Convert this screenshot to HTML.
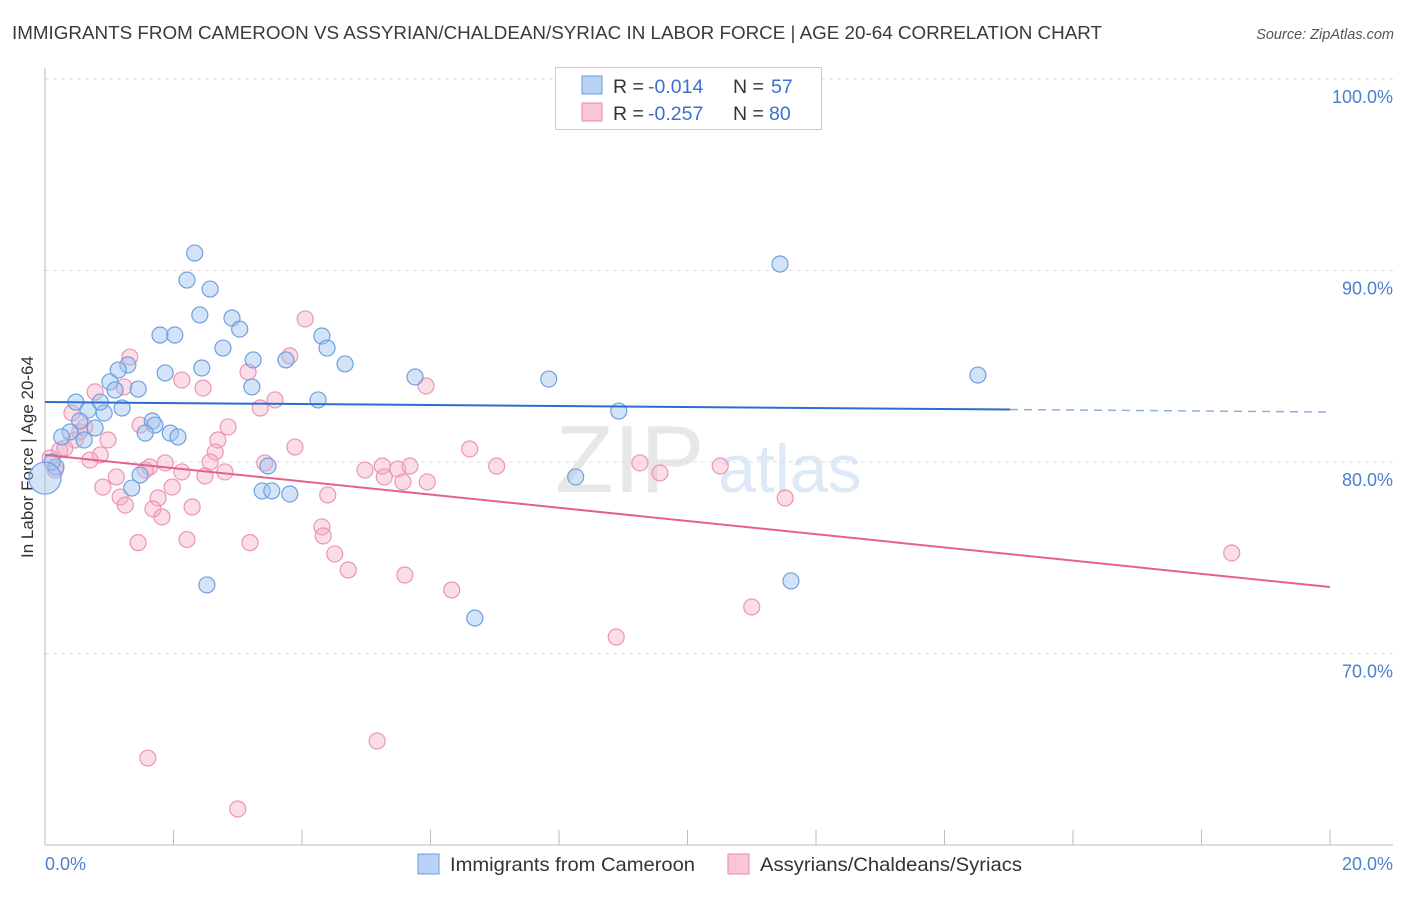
<!DOCTYPE html>
<html><head><meta charset="utf-8"><style>
body{margin:0;background:#fff;font-family:"Liberation Sans",sans-serif;}
svg text{font-family:"Liberation Sans",sans-serif;}
</style></head><body>
<svg id="chart" width="1406" height="892" xmlns="http://www.w3.org/2000/svg">
<text x="12" y="39" font-size="18.8" fill="#3a3a3a" textLength="1090" lengthAdjust="spacingAndGlyphs">IMMIGRANTS FROM CAMEROON VS ASSYRIAN/CHALDEAN/SYRIAC IN LABOR FORCE | AGE 20-64 CORRELATION CHART</text>
<text x="1394" y="39" font-size="14.5" fill="#555" font-style="italic" text-anchor="end">Source: ZipAtlas.com</text>
<text x="555" y="492" font-size="96" fill="#ddd" font-family="Liberation Serif" opacity="0.7">ZIP</text>
<text x="718" y="492" font-size="68" fill="#c9dcf3" opacity="0.6">atlas</text>
<text transform="translate(33,457) rotate(-90)" font-size="17" fill="#333" text-anchor="middle">In Labor Force | Age 20-64</text>
<g id="grid"></g><g id="pts"></g><g id="trend"></g>
<g>
<rect x="555.5" y="67.5" width="266" height="62" fill="#fff" stroke="#ccc"/>
<rect x="582" y="76" width="20" height="18" fill="#b8d3f5" stroke="#6a9de0"/>
<rect x="582" y="103" width="20" height="18" fill="#f8c6d6" stroke="#e88aaa"/>
<text x="613" y="93" font-size="19.5" fill="#333">R =</text>
<text x="648" y="93" font-size="19.5" fill="#3b6fd0">-0.014</text>
<text x="733" y="93" font-size="19.5" fill="#333">N =</text>
<text x="771" y="93" font-size="19.5" fill="#3b6fd0">57</text>
<text x="613" y="120" font-size="19.5" fill="#333">R =</text>
<text x="648" y="120" font-size="19.5" fill="#3b6fd0">-0.257</text>
<text x="733" y="120" font-size="19.5" fill="#333">N =</text>
<text x="769" y="120" font-size="19.5" fill="#3b6fd0">80</text>
</g>
<g>
<rect x="418" y="854" width="21" height="20" fill="#b8d3f5" stroke="#6a9de0"/>
<text x="450" y="871" font-size="19.5" fill="#333" textLength="245" lengthAdjust="spacingAndGlyphs">Immigrants from Cameroon</text>
<rect x="728" y="854" width="21" height="20" fill="#f8c6d6" stroke="#e88aaa"/>
<text x="760" y="871" font-size="19.5" fill="#333" textLength="262" lengthAdjust="spacingAndGlyphs">Assyrians/Chaldeans/Syriacs</text>
</g>
<text x="45" y="870" font-size="18" fill="#4a7fd0">0.0%</text>
<text x="1393" y="870" font-size="18" fill="#4a7fd0" text-anchor="end">20.0%</text>
</svg>
<script>
const yTicks=[100,90,80,70];
const yTickLabels=["100.0%","90.0%","80.0%","70.0%"];
const xTicks=[0,2,4,6,8,10,12,14,16,18,20];
const blueX=[2.33,2.21,2.57,1.79,2.02,2.41,2.91,3.03,2.77,3.24,3.75,4.31,4.39,4.67,2.44,1.87,1.29,1.14,1.01,1.09,1.45,3.22,5.76,7.84,11.44,14.52,8.93,4.25,0.48,0.67,0.92,1.20,0.86,0.54,0.78,0.39,0.26,0.61,1.67,1.71,1.56,1.95,2.07,0.17,0.11,0,1.48,1.35,3.47,3.38,3.53,3.81,8.26,2.52,6.69,11.61];
const blueY=[90.91,89.50,89.03,86.63,86.63,87.68,87.52,86.94,85.95,85.33,85.33,86.58,85.95,85.12,84.91,84.65,85.07,84.80,84.18,83.76,83.81,83.92,84.44,84.33,90.34,84.54,82.66,83.24,83.13,82.71,82.56,82.82,83.13,82.14,81.78,81.57,81.31,81.15,82.14,81.93,81.51,81.51,81.31,79.74,80.00,79.16,79.32,78.64,79.79,78.49,78.49,78.33,79.22,73.58,71.85,73.79];
const pinkX=[4.05,3.81,1.32,3.16,2.13,2.46,0.78,1.23,5.93,3.58,3.35,0.42,1.48,2.85,0.54,0.98,2.69,3.89,2.65,6.61,0.86,0.70,0.23,0.16,1.63,1.56,1.87,2.13,2.57,2.80,3.42,2.49,7.03,9.26,10.51,9.57,4.98,5.25,5.49,5.68,5.28,5.57,5.95,1.11,0.90,1.17,1.25,1.76,1.68,1.82,1.98,2.29,4.40,11.52,4.31,4.33,4.51,4.72,5.60,6.33,1.45,2.21,3.19,18.47,11.00,8.89,5.17,1.60,3.00,0.08,0.31,0.62,0.47];
const pinkY=[87.47,85.54,85.48,84.70,84.28,83.86,83.66,83.92,83.97,83.24,82.82,82.56,81.93,81.83,81.57,81.15,81.15,80.78,80.52,80.68,80.37,80.10,80.63,79.58,79.74,79.58,79.95,79.48,80.00,79.48,79.95,79.27,79.79,79.95,79.79,79.43,79.58,79.79,79.63,79.79,79.22,78.96,78.96,79.22,78.69,78.17,77.75,78.12,77.55,77.13,78.69,77.65,78.28,78.12,76.61,76.14,75.20,74.36,74.10,73.32,75.79,75.95,75.79,75.25,72.43,70.86,65.43,64.54,61.88,80.21,80.73,81.83,81.15];
const blueTrend=[83.13,82.61]; const blueSolidEnd=15.02;
const pinkTrend=[80.37,73.47];
const X=v=>45+v/20*1285;
const Y=v=>79+(100-v)*19.15;
const NS="http://www.w3.org/2000/svg";
function mk(tag,attrs,parent){const e=document.createElementNS(NS,tag);for(const k in attrs)e.setAttribute(k,attrs[k]);parent.appendChild(e);return e;}
const grid=document.getElementById('grid');
yTicks.forEach((t,i)=>{
 const l=mk('line',{x1:45,x2:1393,y1:Y(t),y2:Y(t),stroke:'#ddd','stroke-dasharray':'4,4'},grid);
 
 
 const tx=mk('text',{x:1393,y:Y(t)+24,'font-size':18,fill:'#4a7fd0','text-anchor':'end'},grid);
 tx.textContent=yTickLabels[i];
 
 
});
const ax=mk('line',{x1:45,x2:1393,y1:845,y2:845,stroke:'#bbb'},grid);


const ay=mk('line',{x1:45,x2:45,y1:68,y2:845,stroke:'#bbb'},grid);


xTicks.forEach(t=>{
 const l=mk('line',{x1:X(t),x2:X(t),y1:830,y2:845,stroke:'#bbb'},grid);
 
 
});
const pts=document.getElementById('pts');
pinkX.forEach((x,i)=>{
 const c=mk('circle',{cx:X(x),cy:Y(pinkY[i]),r:8,fill:'rgba(245,170,195,0.4)',stroke:'#eb95b3','stroke-width':1.2},pts);
 
 
});
blueX.forEach((x,i)=>{
 const c=mk('circle',{cx:X(x),cy:Y(blueY[i]),r:i==45?16:8,fill:'rgba(160,195,240,0.45)',stroke:'#6e9fe0','stroke-width':1.2},pts);
 
 
});
const tr=document.getElementById('trend');
const by=v=>blueTrend[0]+(blueTrend[1]-blueTrend[0])*v/20;
let l=mk('line',{x1:X(0),y1:Y(by(0)),x2:X(blueSolidEnd),y2:Y(by(blueSolidEnd)),stroke:'#2a6fd0','stroke-width':2},tr);


l=mk('line',{x1:X(blueSolidEnd),y1:Y(by(blueSolidEnd)),x2:X(20),y2:Y(by(20)),stroke:'#8ab0e0','stroke-width':1.5,'stroke-dasharray':'8,6'},tr);


l=mk('line',{x1:X(0),y1:Y(pinkTrend[0]),x2:X(20),y2:Y(pinkTrend[1]),stroke:'#e5608e','stroke-width':2},tr);


</script>
</body></html>
